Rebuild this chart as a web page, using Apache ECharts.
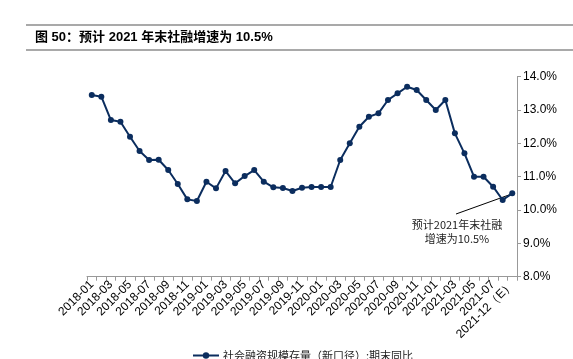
<!DOCTYPE html>
<html><head><meta charset="utf-8">
<script src="https://cdn.jsdelivr.net/npm/echarts@6/dist/echarts.min.js"></script>
<style>html,body{margin:0;padding:0;background:#fff}#c{width:573px;height:359px}</style>
</head><body><div id="c"></div>
<script>
var categories = ['2018-01','2018-02','2018-03','2018-04','2018-05','2018-06','2018-07','2018-08','2018-09','2018-10','2018-11','2018-12',
'2019-01','2019-02','2019-03','2019-04','2019-05','2019-06','2019-07','2019-08','2019-09','2019-10','2019-11','2019-12',
'2020-01','2020-02','2020-03','2020-04','2020-05','2020-06','2020-07','2020-08','2020-09','2020-10','2020-11','2020-12',
'2021-01','2021-02','2021-03','2021-04','2021-05','2021-06','2021-07','2021-08','2021-12（E）'];
var values = [13.45,13.4,12.7,12.65,12.2,11.77,11.5,11.51,11.2,10.78,10.32,10.27,
10.85,10.65,11.17,10.8,11.02,11.2,10.85,10.68,10.66,10.57,10.67,10.69,
10.69,10.69,11.5,12.0,12.5,12.8,12.9,13.3,13.5,13.7,13.6,13.3,
13.0,13.3,12.3,11.7,11.0,11.0,10.7,10.3,10.5];
var yTicks = [8,9,10,11,12,13,14];
var seriesName = '社会融资规模存量（新口径）:期末同比';
var titleText = '图 50：预计 2021 年末社融增速为 10.5%';
var noteLines = ['预计2021年末社融','增速为10.5%'];

var chart = echarts.init(document.getElementById('c'));
var option = {
  animation: false,
  grid: {left: 87, right: 56, top: 76.7, bottom: 82.3},
  xAxis: {
    type: 'category', data: categories, boundaryGap: true,
    axisLine: {lineStyle: {color: '#999', width: 1}},
    axisTick: {show: true, length: 4, lineStyle: {color: '#999'}, interval: 0},
    axisLabel: {rotate: 45, interval: 1, fontSize: 12, color: '#000', fontFamily: 'Liberation Sans, Arial', margin: 6}
  },
  yAxis: {
    type: 'value', position: 'right', min: yTicks[0], max: yTicks[yTicks.length-1], interval: 1,
    axisLine: {show: true, lineStyle: {color: '#999'}},
    axisTick: {show: true, length: 4, lineStyle: {color: '#999'}},
    splitLine: {show: false},
    axisLabel: {formatter: function(v){return v.toFixed(1)+'%';}, fontSize: 12, color: '#000', fontFamily: 'Liberation Sans, Arial', margin: 6}
  },
  legend: {
    data: [seriesName], left: 192, top: 350, itemWidth: 26, itemHeight: 8, padding: 0,
    textStyle: {fontSize: 11, color: '#222', fontFamily: 'Noto Sans CJK SC', padding: [0,0,0,-1]}
  },
  series: [{
    name: seriesName, type: 'line', data: values,
    symbol: 'circle', symbolSize: 6, showAllSymbol: true,
    lineStyle: {color: '#0b2d5e', width: 2},
    itemStyle: {color: '#0b2d5e'}
  }]
};
chart.setOption(option);

var last = chart.convertToPixel({seriesIndex: 0}, [values.length - 1, values[values.length - 1]]);
chart.setOption({
  graphic: [
    {type: 'line', shape: {x1: 26, y1: 25, x2: 573, y2: 25}, style: {stroke: '#8c8c8c', lineWidth: 1.5}},
    {type: 'line', shape: {x1: 26, y1: 50, x2: 573, y2: 50}, style: {stroke: '#8c8c8c', lineWidth: 1.5}},
    {type: 'text', left: 35, top: 31, style: {text: titleText, font: 'bold 13px "Liberation Sans", "Noto Sans CJK SC"', fill: '#000'}},
    {type: 'line', shape: {x1: 456, y1: 214, x2: last[0] - 3, y2: last[1] + 1.5}, style: {stroke: '#000', lineWidth: 1}},
    {type: 'text', x: 457, y: 225, style: {text: noteLines[0], font: '11px "Noto Sans CJK SC"', fill: '#222', align: 'center', verticalAlign: 'middle'}},
    {type: 'text', x: 457, y: 239, style: {text: noteLines[1], font: '11px "Noto Sans CJK SC"', fill: '#222', align: 'center', verticalAlign: 'middle'}}
  ]
});
</script>
</body></html>
